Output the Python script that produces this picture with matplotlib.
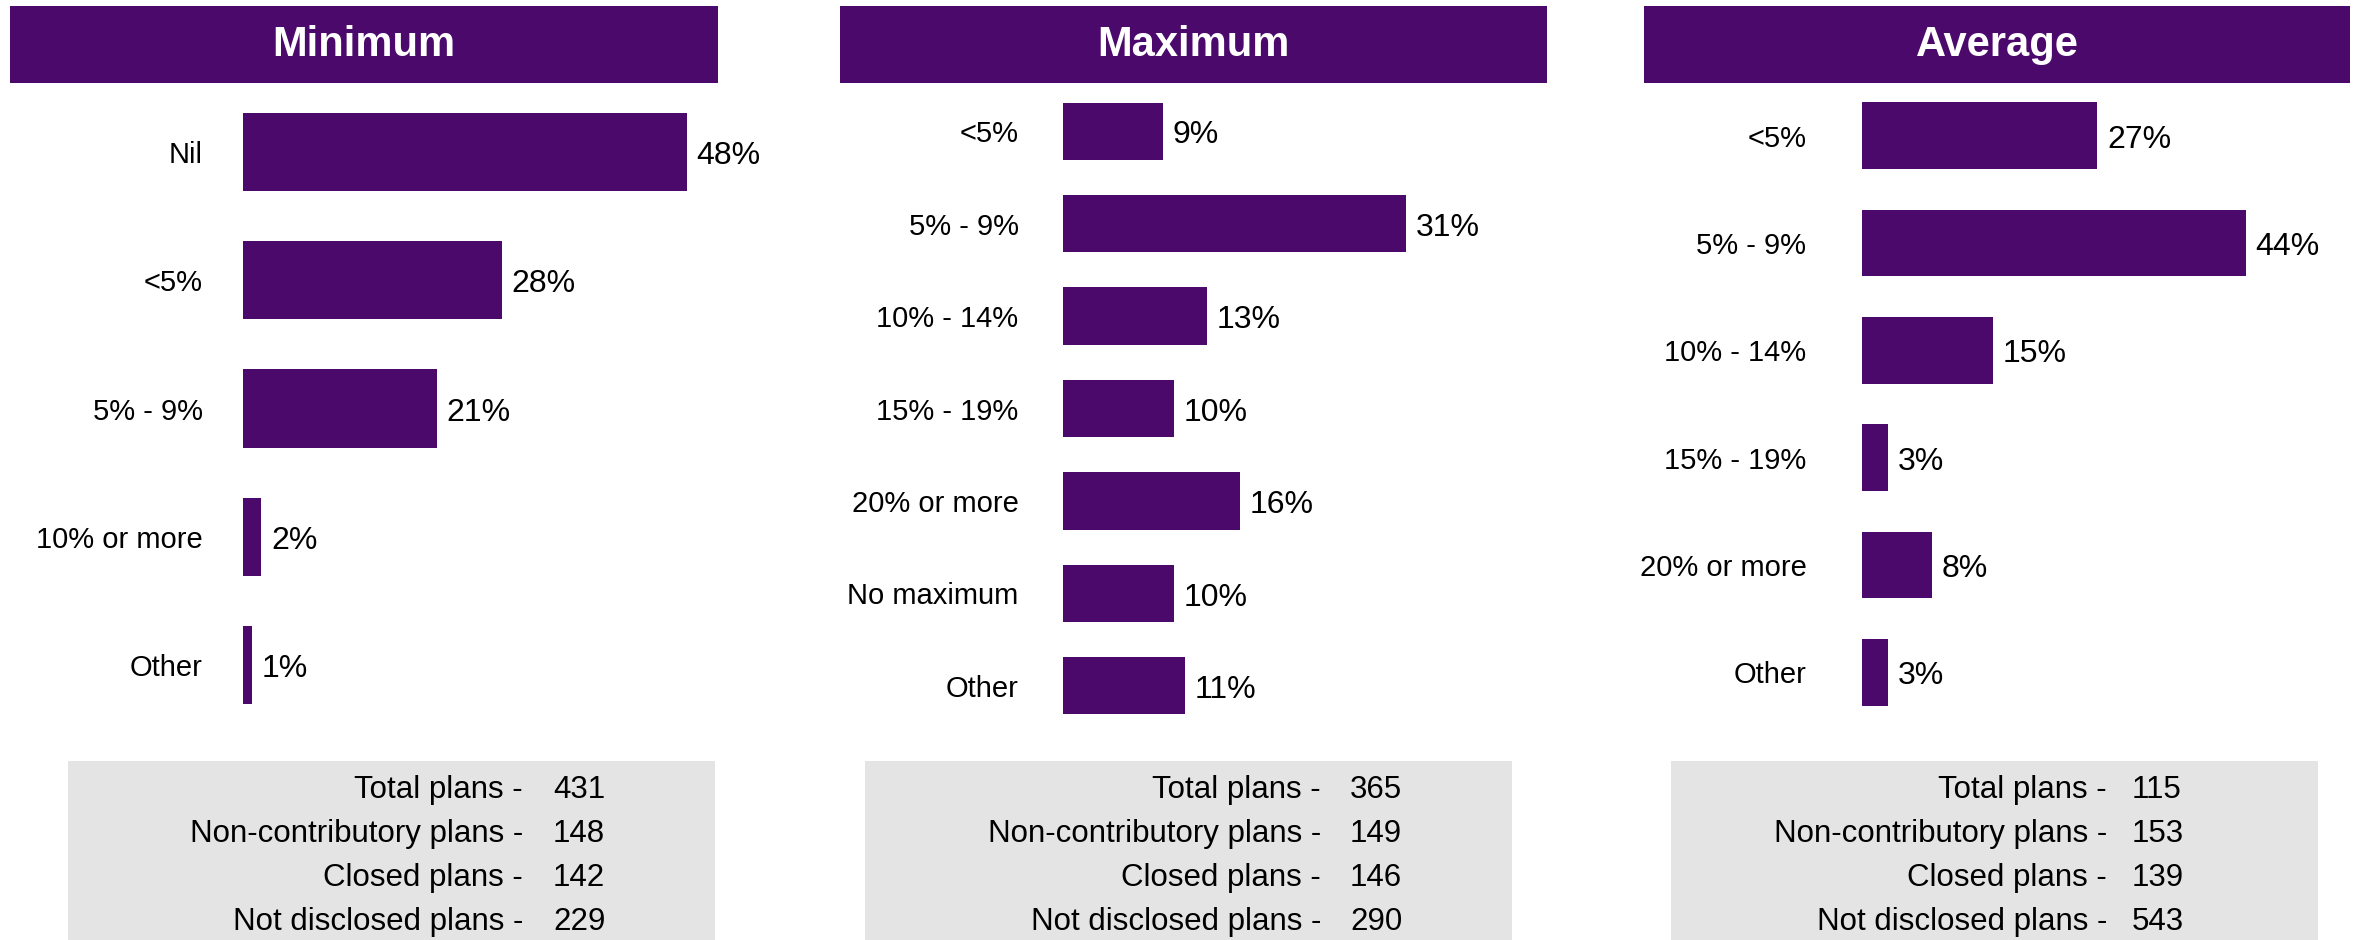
import matplotlib
matplotlib.use("Agg")
from matplotlib import pyplot as plt
from matplotlib.patches import Rectangle

plt.rcParams['font.family'] = ['Liberation Sans', 'DejaVu Sans']

PURPLE = '#4b0a6b'
GREY = '#e4e4e4'

# Data
min_cats = ["Nil", "<5%", "5% - 9%", "10% or more", "Other"]
min_vals = [48, 28, 21, 2, 1]

max_cats = ["<5%", "5% - 9%", "10% - 14%", "15% - 19%", "20% or more", "No maximum", "Other"]
max_vals = [9, 31, 13, 10, 16, 10, 11]

avg_cats = ["<5%", "5% - 9%", "10% - 14%", "15% - 19%", "20% or more", "Other"]
avg_vals = [27, 44, 15, 3, 8, 3]

footer_labels = ["Total plans -", "Non-contributory plans -", "Closed plans -", "Not disclosed plans -"]
min_counts = [431, 148, 142, 229]
max_counts = [365, 149, 146, 290]
avg_counts = [115, 153, 139, 543]

W, H = 2364, 940
fig = plt.figure(figsize=(W / 100, H / 100), dpi=100)


def fx(px):
    return px / W


def fy(py):
    return 1 - py / H


# panel layout in pixels: header x-range, axes box, xlim, footer box, footer text columns
panels = [
    dict(title="Minimum", cats=min_cats, vals=min_vals, counts=min_counts,
         head=(10, 718), ax=(243, 705, 88, 729), xmax=50, bar_h=0.61, pad=29,
         box=(68, 715), lab_x=523, num_x=553),
    dict(title="Maximum", cats=max_cats, vals=max_vals, counts=max_counts,
         head=(840, 1547), ax=(1063, 1506, 85, 732), xmax=40, bar_h=0.62, pad=32,
         box=(865, 1512), lab_x=1321, num_x=1350),
    dict(title="Average", cats=avg_cats, vals=avg_vals, counts=avg_counts,
         head=(1644, 2350), ax=(1862, 2298, 82, 726), xmax=50, bar_h=0.62, pad=40,
         box=(1671, 2318), lab_x=2107, num_x=2132),
]

for p in panels:
    # header band
    x0, x1 = p["head"]
    fig.patches.append(Rectangle((fx(x0), fy(83)), fx(x1 - x0), (83 - 6) / H,
                                 transform=fig.transFigure, facecolor=PURPLE,
                                 edgecolor='none', zorder=0))
    fig.text(fx((x0 + x1) / 2), fy(45), p["title"], color='white', fontsize=30,
             fontweight='bold', ha='center', va='center')

    # bars
    l, r, t, b = p["ax"]
    ax = fig.add_axes([fx(l), fy(b), fx(r - l), (b - t) / H])
    n = len(p["cats"])
    ypos = list(range(n))
    ax.barh(ypos, p["vals"], height=p["bar_h"], color=PURPLE)
    ax.set_xlim(0, p["xmax"])
    ax.set_ylim(n - 0.5, -0.5)
    ax.set_yticks(ypos)
    ax.set_yticklabels(p["cats"], fontsize=21)
    ax.tick_params(axis='y', length=0, pad=p["pad"])
    ax.set_xticks([])
    for s in ax.spines.values():
        s.set_visible(False)
    for y, v in zip(ypos, p["vals"]):
        ax.annotate(f"{v}%", (v, y), xytext=(7, -3), textcoords='offset points',
                    fontsize=23, va='center', ha='left')

    # footer box
    bx0, bx1 = p["box"]
    fig.patches.append(Rectangle((fx(bx0), 0), fx(bx1 - bx0), (H - 761) / H,
                                 transform=fig.transFigure, facecolor=GREY,
                                 edgecolor='none', zorder=0))
    for i, (lab, c) in enumerate(zip(footer_labels, p["counts"])):
        yy = fy(790 + i * 44)
        fig.text(fx(p["lab_x"]), yy, lab, fontsize=22.5, ha='right', va='center')
        fig.text(fx(p["num_x"]), yy, str(c), fontsize=22.5, ha='left', va='center')

fig.savefig("out.png", dpi=100)
